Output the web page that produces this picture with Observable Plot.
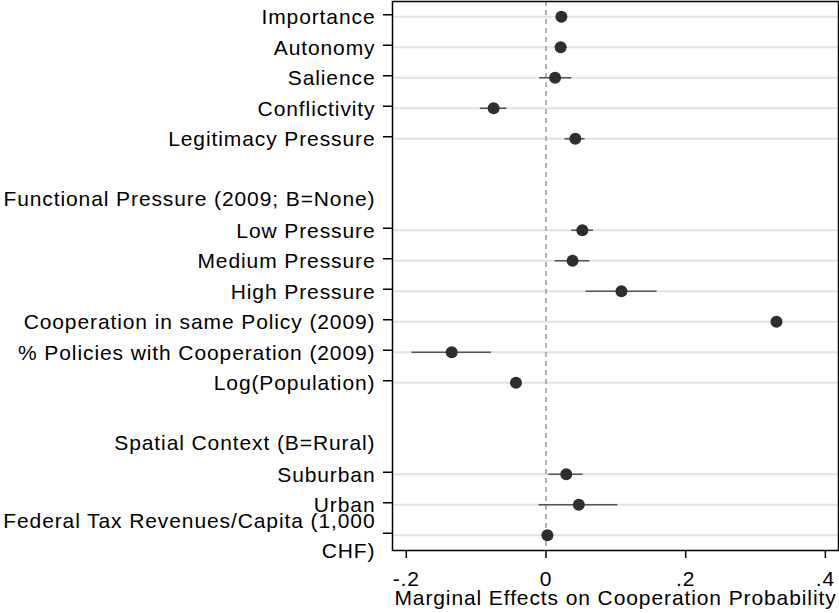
<!DOCTYPE html>
<html>
<head>
<meta charset="utf-8">
<script src="https://cdn.jsdelivr.net/npm/d3@7"></script>
<script src="https://cdn.jsdelivr.net/npm/@observablehq/plot@0.6"></script>
<style>
  html, body { margin: 0; padding: 0; background: #fff; }
</style>
</head>
<body>
<div id="chart"></div>
<script>
// Row layout (top to bottom); empty strings are spacer rows
const rows = [
  "Importance", "Autonomy", "Salience", "Conflictivity", "Legitimacy Pressure",
  "",
  "Functional Pressure (2009; B=None)",
  "Low Pressure", "Medium Pressure", "High Pressure",
  "Cooperation in same Policy (2009)", "% Policies with Cooperation (2009)",
  "Log(Population)",
  "",
  "Spatial Context (B=Rural)",
  "Suburban", "Urban",
  "Federal Tax Revenues/Capita (1,000\nCHF)"
];
const headers = ["Functional Pressure (2009; B=None)", "Spatial Context (B=Rural)"];

// Estimates and confidence intervals
const terms = [
  "Importance", "Autonomy", "Salience", "Conflictivity", "Legitimacy Pressure",
  "Low Pressure", "Medium Pressure", "High Pressure",
  "Cooperation in same Policy (2009)", "% Policies with Cooperation (2009)",
  "Log(Population)", "Suburban", "Urban",
  "Federal Tax Revenues/Capita (1,000\nCHF)"
];
const estimate = [0.022, 0.021, 0.013, -0.075, 0.042, 0.052, 0.038, 0.108, 0.330, -0.135, -0.043, 0.029, 0.047, 0.002];
const lower    = [0.016, 0.015, -0.009, -0.094, 0.027, 0.037, 0.013, 0.057, 0.323, -0.192, -0.050, 0.004, -0.010, -0.002];
const upper    = [0.028, 0.027, 0.037, -0.056, 0.056, 0.068, 0.063, 0.159, 0.337, -0.078, -0.036, 0.053, 0.103, 0.006];
const xTicks = [-0.2, 0, 0.2, 0.4];
const xLabel = "Marginal Effects on Cooperation Probability";

const data = terms.map((t, i) => ({row: rows.indexOf(t), est: estimate[i], lo: lower[i], hi: upper[i]}));
const dataRows = data.map(d => d.row);
const headerRows = headers.map(h => rows.indexOf(h));

const fmt = d => d === 0 ? "0" : (d < 0 ? "-" : "") + String(Math.abs(d)).replace(/^0/, "");

const chart = Plot.plot({
  width: 839,
  height: 613,
  marginLeft: 392,
  marginRight: 1,
  marginTop: 1,
  marginBottom: 63,
  style: {fontFamily: "'Liberation Sans', Arial, sans-serif", fontSize: "21px", letterSpacing: "0.9px", color: "#000", background: "#fff"},
  x: {domain: [-0.2198, 0.4188]},
  y: {type: "point", domain: rows.map((_, i) => i), padding: 0.5, round: false},
  marks: [
    Plot.ruleY(dataRows, {y: d => d, stroke: "#e3e3e3", strokeWidth: 2}),
    Plot.ruleX([0], {stroke: "#999", strokeWidth: 1.5, strokeDasharray: "5,4"}),
    Plot.ruleY(data, {y: "row", x1: "lo", x2: "hi", stroke: "#555", strokeWidth: 1.6}),
    Plot.dot(data, {x: "est", y: "row", r: 6, fill: "#2e2e2e"}),
    Plot.frame({stroke: "#000", strokeWidth: 1.5}),
    Plot.axisX(xTicks, {tickSize: 8, tickPadding: 13, tickFormat: fmt, label: null, strokeWidth: 1.5, fontSize: 21}),
    Plot.axisY(dataRows, {tickSize: 9, tickPadding: 8, tickFormat: i => rows[i], label: null, strokeWidth: 1.5, fontSize: 21, lineHeight: 1.43, dy: -2}),
    Plot.axisY(headerRows, {tickSize: 0, tickPadding: 17, tickFormat: i => rows[i], label: null, fontSize: 21}),
    Plot.text([xLabel], {text: d => d, frameAnchor: "bottom", lineAnchor: "top", dy: 40, fontSize: 21})
  ]
});
document.getElementById("chart").appendChild(chart);
</script>
</body>
</html>
